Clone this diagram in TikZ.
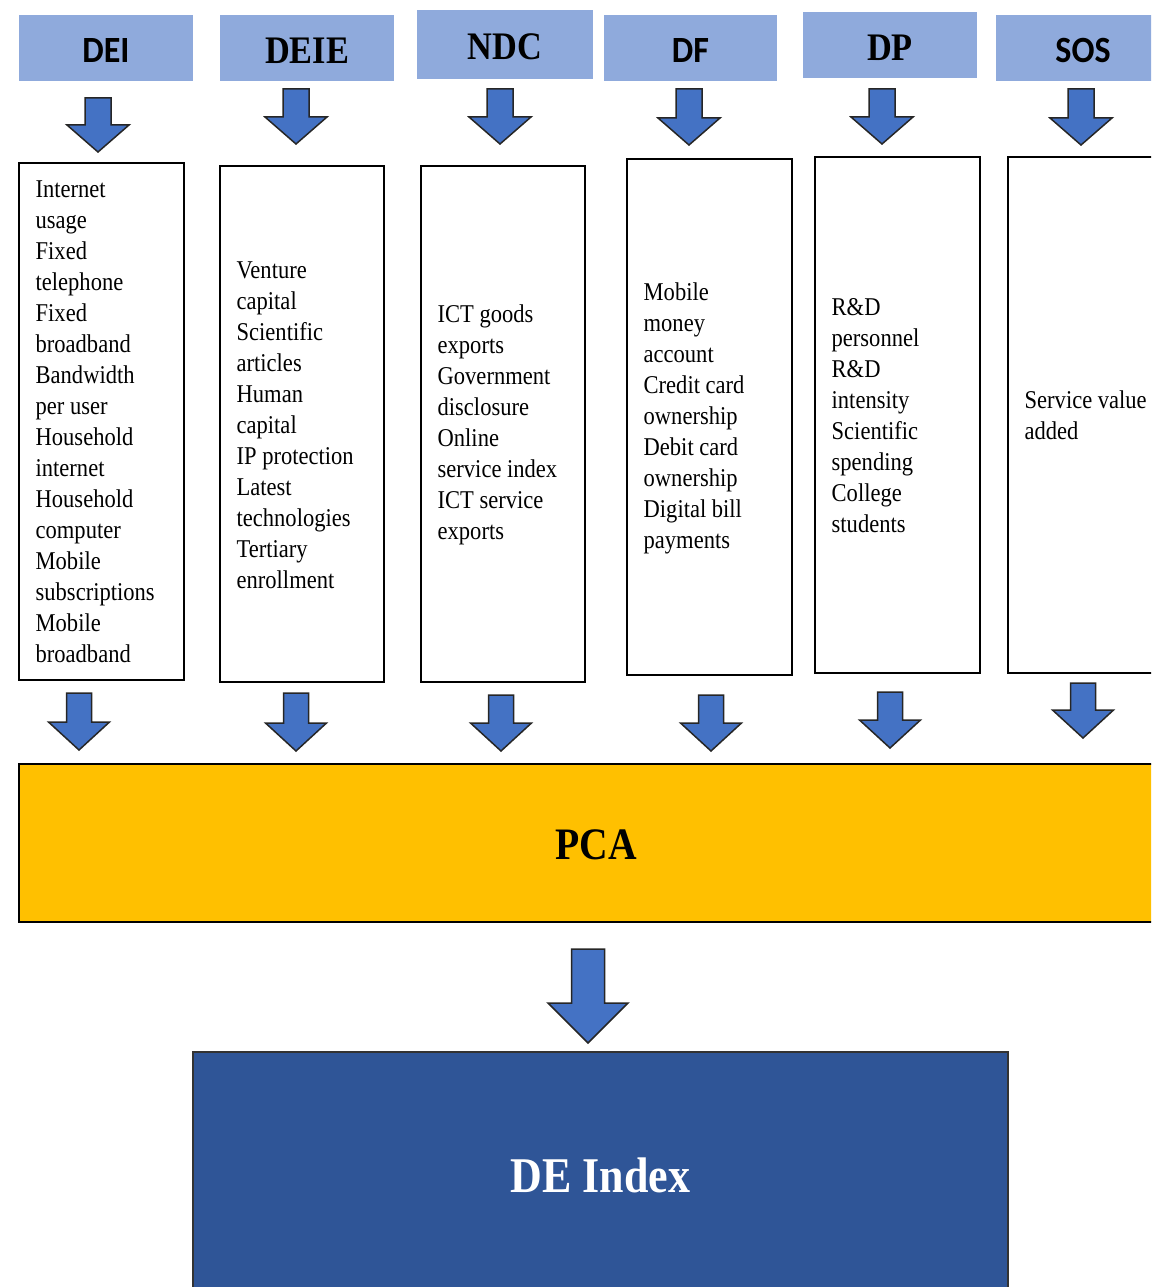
\documentclass[tikz,border=0pt]{standalone}
\usepackage{fontspec}
\setmainfont{Liberation Serif}[FakeStretch=0.88]
\newfontfamily\calib{Carlito}[FakeStretch=0.92]
\definecolor{hdrblue}{HTML}{8FAADC}
\definecolor{arrblue}{HTML}{4472C4}
\definecolor{pcagold}{HTML}{FFC000}
\definecolor{deblue}{HTML}{2F5597}
\newcommand\blkarr[6]{\draw[arr] (#1-#4,#2) -- (#1+#4,#2) -- (#1+#4,#3-#6) -- (#1+#5,#3-#6) -- (#1,#3) -- (#1-#5,#3-#6) -- (#1-#4,#3-#6) -- cycle;}
\begin{document}
\begin{tikzpicture}[x=1pt,y=-1pt,
  hdr/.style={fill=hdrblue, minimum width=174pt, minimum height=66pt, inner sep=0pt},
  hsans/.style={inner sep=0pt, font=\calib\bfseries\fontsize{37}{40}\selectfont},
  hserif/.style={inner sep=0pt, font=\bfseries\fontsize{39}{42}\selectfont},
  ibox/.style={draw=black, line width=2pt, minimum width=165pt, minimum height=516pt, inner sep=0pt},
  itxt/.style={anchor=west, align=left, inner sep=0pt, font=\fontsize{25.6}{31}\selectfont},
  arr/.style={fill=arrblue, draw=black!85, line width=1.5pt, line join=miter}]
\useasboundingbox (0,0) rectangle (1151,1287);
\clip (0,0) rectangle (1151,1287);
% headers
\node[hdr] (hDEI) at (106,48) {};
\node[hdr] (hDEIE) at (307,48) {};
\node[hdr, minimum width=176pt, minimum height=69pt] (hNDC) at (505,44.5) {};
\node[hdr, minimum width=173pt] (hDF) at (690.5,48) {};
\node[hdr] (hDP) at (890,45) {};
\node[hdr] (hSOS) at (1083,48) {};
\node[hsans] (lDEI) at ([yshift=-2.5pt]hDEI.center) {DEI};
\node[hserif] (lDEIE) at ([yshift=-2.5pt]hDEIE.center) {DEIE};
\node[hserif] (lNDC) at ([yshift=-2.5pt]hNDC.center) {NDC};
\node[hsans] (lDF) at ([yshift=-2.5pt]hDF.center) {DF};
\node[hserif] (lDP) at ([yshift=-2.5pt]hDP.center) {DP};
\node[hsans] (lSOS) at ([yshift=-2.5pt]hSOS.center) {SOS};
% top arrows
\blkarr{98}{98}{152}{13}{31}{27}
\blkarr{296}{89}{144}{13}{31}{27}
\blkarr{500}{89}{144}{13}{31}{27}
\blkarr{689}{89}{145}{13}{31}{27}
\blkarr{882}{89}{144}{13}{31}{27}
\blkarr{1081}{89}{145}{13}{31}{27}
% indicator boxes
\node[ibox, minimum height=517pt] (bDEI) at (101.5,421.5) {};
\node[ibox, minimum width=164pt] (bDEIE) at (302,424) {};
\node[ibox, minimum width=164pt] (bNDC) at (503,424) {};
\node[ibox] (bDF) at (709.5,417) {};
\node[ibox] (bDP) at (897.5,415) {};
\node[ibox] (bSOS) at (1090.5,415) {};
\node[itxt] (tDEI) at (35.5,422) {Internet\\usage\\Fixed\\telephone\\Fixed\\broadband\\Bandwidth\\per user\\Household\\internet\\Household\\computer\\Mobile\\subscriptions\\Mobile\\broadband};
\node[itxt] (tDEIE) at (236.5,425) {Venture\\capital\\Scientific\\articles\\Human\\capital\\IP protection\\Latest\\technologies\\Tertiary\\enrollment};
\node[itxt] (tNDC) at (437.5,425) {ICT goods\\exports\\Government\\disclosure\\Online\\service index\\ICT service\\exports};
\node[itxt] (tDF) at (643.5,418) {Mobile\\money\\account\\Credit card\\ownership\\Debit card\\ownership\\Digital bill\\payments};
\node[itxt] (tDP) at (831.5,415.5) {R\&D\\personnel\\R\&D\\intensity\\Scientific\\spending\\College\\students};
\node[itxt] (tSOS) at (1024.5,415.5) {Service value\\added};
% bottom arrows
\blkarr{79}{693}{750}{12.5}{30.5}{28}
\blkarr{296}{693}{751}{12.5}{30.5}{28}
\blkarr{501}{695}{751}{12.5}{30.5}{28}
\blkarr{711}{695}{751}{12.5}{30.5}{28}
\blkarr{890}{692}{748}{12.5}{30.5}{28}
\blkarr{1083}{683}{738}{12.5}{30.5}{28}
% PCA
\node[draw=black, line width=2pt, fill=pcagold, minimum width=1154pt, minimum height=158pt, inner sep=0pt] (pca) at (596,843) {};
\node[inner sep=0pt, font=\bfseries\fontsize{45}{48}\selectfont] (lpca) at ([yshift=-2pt]pca.center) {PCA};
% big arrow
\blkarr{588}{949}{1043}{16.5}{40}{40}
% DE Index
\node[draw=black!80, line width=2pt, fill=deblue, minimum width=815pt, minimum height=246pt, inner sep=0pt,
  text=white, font=\bfseries\fontsize{50}{54}\selectfont] (dei) at (600.5,1175) {DE Index};
\end{tikzpicture}
\end{document}
